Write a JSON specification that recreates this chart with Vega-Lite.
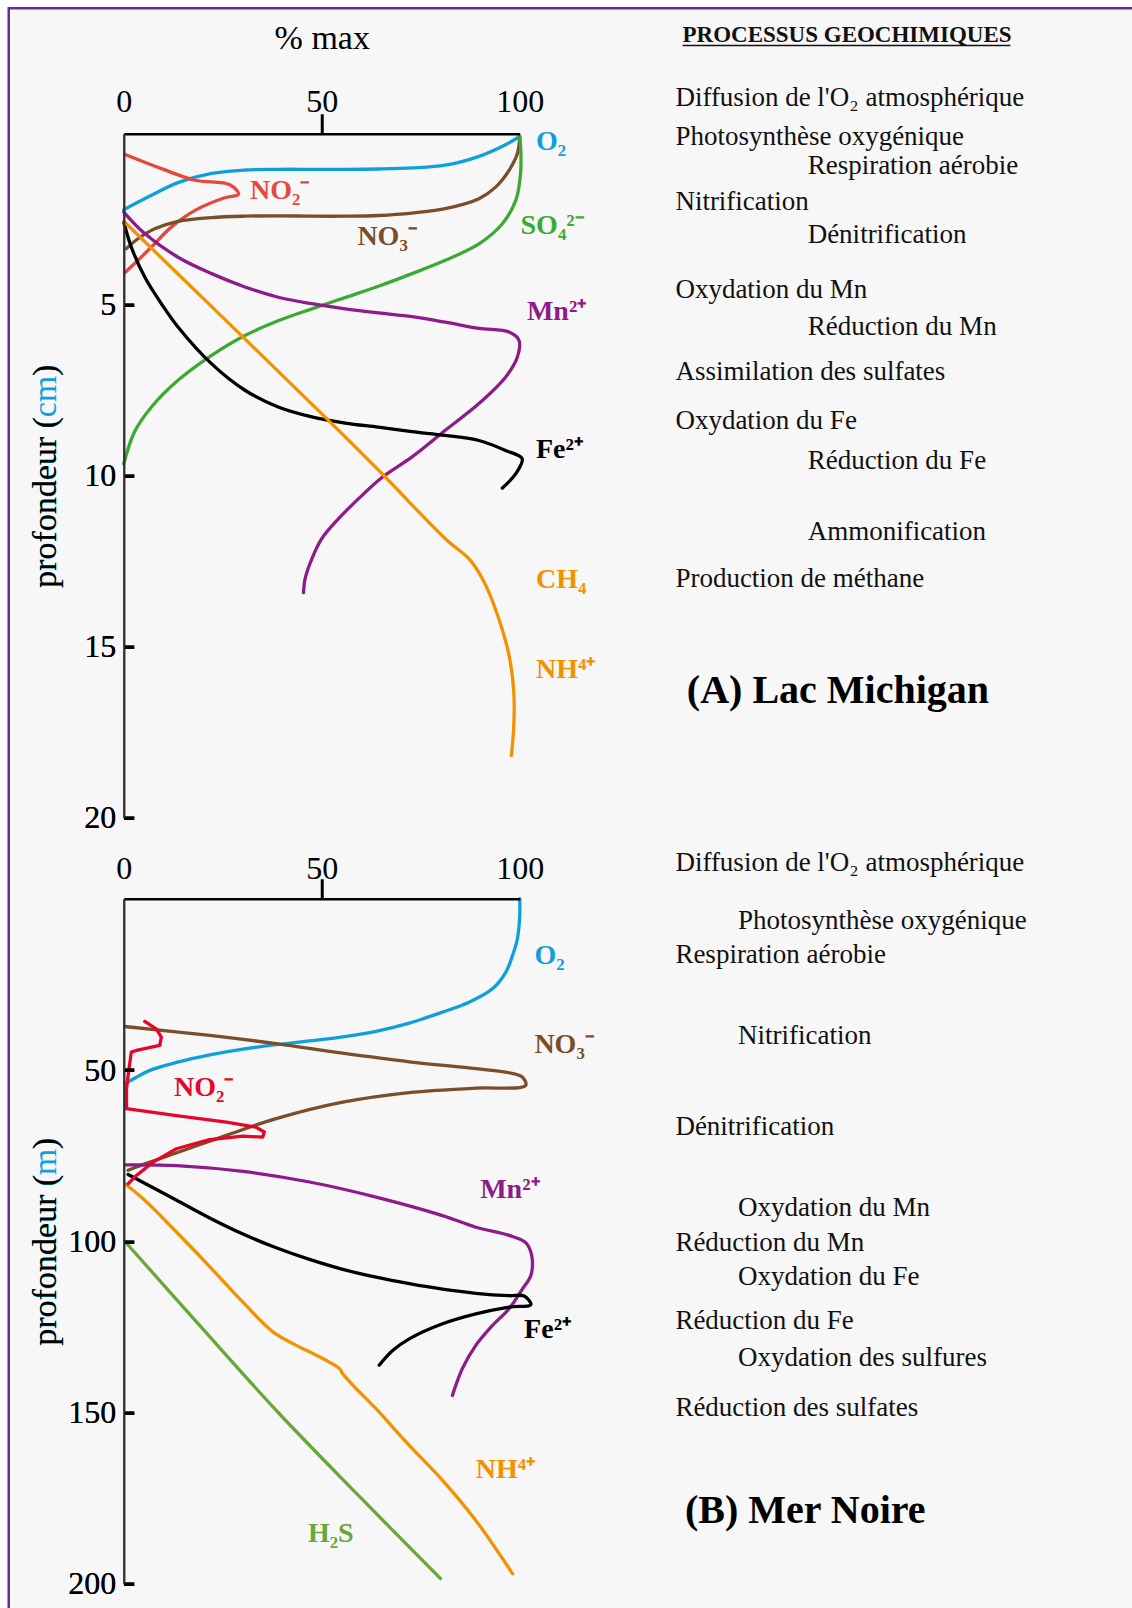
{
"$schema":"https://vega.github.io/schema/vega-lite/v6.json",
"background":"#ffffff",
"padding":{"left":6.75,"top":6.75,"right":0,"bottom":0},
"config":{"view":{"stroke":null},"font":"Liberation Serif","axis":{"labelFont":"Liberation Serif","titleFont":"Liberation Serif","grid":false,"zindex":1},"text":{"font":"Liberation Serif"}},
"datasets":{
"curves":[
{"p":"A","s":"O2","o":0,"x":0,"d":2.22},{"p":"A","s":"O2","o":1,"x":7,"d":1.8},{"p":"A","s":"O2","o":2,"x":13.7,"d":1.43},{"p":"A","s":"O2","o":3,"x":22.2,"d":1.16},{"p":"A","s":"O2","o":4,"x":30.6,"d":1.06},{"p":"A","s":"O2","o":5,"x":39,"d":1.04},{"p":"A","s":"O2","o":6,"x":47.5,"d":1.04},{"p":"A","s":"O2","o":7,"x":55.9,"d":1.04},{"p":"A","s":"O2","o":8,"x":64.3,"d":1.03},{"p":"A","s":"O2","o":9,"x":72.8,"d":1.0},{"p":"A","s":"O2","o":10,"x":81.2,"d":0.92},{"p":"A","s":"O2","o":11,"x":89.7,"d":0.66},{"p":"A","s":"O2","o":12,"x":96.4,"d":0.32},{"p":"A","s":"O2","o":13,"x":100,"d":0.08},
{"p":"A","s":"NO2","o":0,"x":0.2,"d":0.6},{"p":"A","s":"NO2","o":1,"x":9.5,"d":1.02},{"p":"A","s":"NO2","o":2,"x":18,"d":1.36},{"p":"A","s":"NO2","o":3,"x":26.8,"d":1.49},{"p":"A","s":"NO2","o":4,"x":29,"d":1.77},{"p":"A","s":"NO2","o":5,"x":25.5,"d":1.87},{"p":"A","s":"NO2","o":6,"x":18,"d":2.24},{"p":"A","s":"NO2","o":7,"x":12,"d":2.73},{"p":"A","s":"NO2","o":8,"x":7,"d":3.31},{"p":"A","s":"NO2","o":9,"x":3.6,"d":3.7},{"p":"A","s":"NO2","o":10,"x":0.2,"d":4.07},
{"p":"A","s":"NO3","o":0,"x":100,"d":0.08},{"p":"A","s":"NO3","o":1,"x":99.4,"d":0.58},{"p":"A","s":"NO3","o":2,"x":97.3,"d":1.07},{"p":"A","s":"NO3","o":3,"x":93.9,"d":1.56},{"p":"A","s":"NO3","o":4,"x":89.7,"d":1.9},{"p":"A","s":"NO3","o":5,"x":81.2,"d":2.19},{"p":"A","s":"NO3","o":6,"x":72.8,"d":2.32},{"p":"A","s":"NO3","o":7,"x":64.3,"d":2.39},{"p":"A","s":"NO3","o":8,"x":55.9,"d":2.41},{"p":"A","s":"NO3","o":9,"x":47.5,"d":2.41},{"p":"A","s":"NO3","o":10,"x":39,"d":2.4},{"p":"A","s":"NO3","o":11,"x":30.6,"d":2.41},{"p":"A","s":"NO3","o":12,"x":22.2,"d":2.45},{"p":"A","s":"NO3","o":13,"x":13.7,"d":2.56},{"p":"A","s":"NO3","o":14,"x":7.8,"d":2.78},{"p":"A","s":"NO3","o":15,"x":3.6,"d":3.07},{"p":"A","s":"NO3","o":16,"x":0.6,"d":3.36},
{"p":"A","s":"SO4","o":0,"x":100,"d":0.08},{"p":"A","s":"SO4","o":1,"x":100.3,"d":0.6},{"p":"A","s":"SO4","o":2,"x":100.2,"d":1.17},{"p":"A","s":"SO4","o":3,"x":99,"d":1.95},{"p":"A","s":"SO4","o":4,"x":95.6,"d":2.63},{"p":"A","s":"SO4","o":5,"x":89.7,"d":3.22},{"p":"A","s":"SO4","o":6,"x":81.2,"d":3.7},{"p":"A","s":"SO4","o":7,"x":72.8,"d":4.09},{"p":"A","s":"SO4","o":8,"x":64.3,"d":4.46},{"p":"A","s":"SO4","o":9,"x":55.9,"d":4.79},{"p":"A","s":"SO4","o":10,"x":47.5,"d":5.12},{"p":"A","s":"SO4","o":11,"x":39,"d":5.47},{"p":"A","s":"SO4","o":12,"x":30.6,"d":5.9},{"p":"A","s":"SO4","o":13,"x":22.2,"d":6.48},{"p":"A","s":"SO4","o":14,"x":13.7,"d":7.21},{"p":"A","s":"SO4","o":15,"x":7,"d":7.99},{"p":"A","s":"SO4","o":16,"x":2.7,"d":8.72},{"p":"A","s":"SO4","o":17,"x":0,"d":9.65},
{"p":"A","s":"Mn","o":0,"x":0,"d":2.29},{"p":"A","s":"Mn","o":1,"x":5.3,"d":2.92},{"p":"A","s":"Mn","o":2,"x":13.7,"d":3.61},{"p":"A","s":"Mn","o":3,"x":22.2,"d":4.09},{"p":"A","s":"Mn","o":4,"x":30.6,"d":4.48},{"p":"A","s":"Mn","o":5,"x":39,"d":4.78},{"p":"A","s":"Mn","o":6,"x":47.5,"d":4.97},{"p":"A","s":"Mn","o":7,"x":55.9,"d":5.12},{"p":"A","s":"Mn","o":8,"x":64.3,"d":5.24},{"p":"A","s":"Mn","o":9,"x":72.8,"d":5.35},{"p":"A","s":"Mn","o":10,"x":81.2,"d":5.51},{"p":"A","s":"Mn","o":11,"x":89.7,"d":5.69},{"p":"A","s":"Mn","o":12,"x":97.3,"d":5.8},{"p":"A","s":"Mn","o":13,"x":99.8,"d":6.04},{"p":"A","s":"Mn","o":14,"x":99.4,"d":6.53},{"p":"A","s":"Mn","o":15,"x":96.4,"d":7.12},{"p":"A","s":"Mn","o":16,"x":89.7,"d":7.89},{"p":"A","s":"Mn","o":17,"x":81.2,"d":8.67},{"p":"A","s":"Mn","o":18,"x":72.8,"d":9.45},{"p":"A","s":"Mn","o":19,"x":65.2,"d":10.05},{"p":"A","s":"Mn","o":20,"x":59.3,"d":10.67},{"p":"A","s":"Mn","o":21,"x":54.2,"d":11.26},{"p":"A","s":"Mn","o":22,"x":50,"d":11.84},{"p":"A","s":"Mn","o":23,"x":47.5,"d":12.43},{"p":"A","s":"Mn","o":24,"x":45.8,"d":13.01},{"p":"A","s":"Mn","o":25,"x":45.4,"d":13.42},
{"p":"A","s":"Fe","o":0,"x":0,"d":2.58},{"p":"A","s":"Fe","o":1,"x":1.9,"d":3.31},{"p":"A","s":"Fe","o":2,"x":5.3,"d":4.19},{"p":"A","s":"Fe","o":3,"x":9.5,"d":4.97},{"p":"A","s":"Fe","o":4,"x":13.7,"d":5.65},{"p":"A","s":"Fe","o":5,"x":22.2,"d":6.73},{"p":"A","s":"Fe","o":6,"x":30.6,"d":7.5},{"p":"A","s":"Fe","o":7,"x":39,"d":7.99},{"p":"A","s":"Fe","o":8,"x":47.5,"d":8.28},{"p":"A","s":"Fe","o":9,"x":55.9,"d":8.46},{"p":"A","s":"Fe","o":10,"x":64.3,"d":8.58},{"p":"A","s":"Fe","o":11,"x":72.8,"d":8.71},{"p":"A","s":"Fe","o":12,"x":81.2,"d":8.82},{"p":"A","s":"Fe","o":13,"x":89.7,"d":8.97},{"p":"A","s":"Fe","o":14,"x":96.4,"d":9.26},{"p":"A","s":"Fe","o":15,"x":100.6,"d":9.5},{"p":"A","s":"Fe","o":16,"x":99,"d":9.94},{"p":"A","s":"Fe","o":17,"x":95.6,"d":10.36},
{"p":"A","s":"CH4","o":0,"x":0,"d":2.56},{"p":"A","s":"CH4","o":1,"x":25,"d":5.37},{"p":"A","s":"CH4","o":2,"x":50.8,"d":8.28},{"p":"A","s":"CH4","o":3,"x":65.2,"d":9.94},{"p":"A","s":"CH4","o":4,"x":81.2,"d":11.84},{"p":"A","s":"CH4","o":5,"x":87.6,"d":12.48},{"p":"A","s":"CH4","o":6,"x":91.4,"d":13.2},{"p":"A","s":"CH4","o":7,"x":94.7,"d":14.18},{"p":"A","s":"CH4","o":8,"x":97.3,"d":15.25},{"p":"A","s":"CH4","o":9,"x":98.5,"d":16.33},{"p":"A","s":"CH4","o":10,"x":98.5,"d":17.3},{"p":"A","s":"CH4","o":11,"x":97.9,"d":18.18},
{"p":"B","s":"O2","o":0,"x":100,"d":0},{"p":"B","s":"O2","o":1,"x":100,"d":4.9},{"p":"B","s":"O2","o":2,"x":99.4,"d":11.7},{"p":"B","s":"O2","o":3,"x":98.2,"d":16.5},{"p":"B","s":"O2","o":4,"x":96.5,"d":21.4},{"p":"B","s":"O2","o":5,"x":93.1,"d":26.3},{"p":"B","s":"O2","o":6,"x":87.2,"d":30.2},{"p":"B","s":"O2","o":7,"x":80.5,"d":33.1},{"p":"B","s":"O2","o":8,"x":72.1,"d":36.3},{"p":"B","s":"O2","o":9,"x":63.7,"d":38.7},{"p":"B","s":"O2","o":10,"x":55.3,"d":40.3},{"p":"B","s":"O2","o":11,"x":46.9,"d":41.5},{"p":"B","s":"O2","o":12,"x":38.5,"d":42.6},{"p":"B","s":"O2","o":13,"x":30.1,"d":43.9},{"p":"B","s":"O2","o":14,"x":21.7,"d":45.6},{"p":"B","s":"O2","o":15,"x":13.3,"d":47.8},{"p":"B","s":"O2","o":16,"x":6.6,"d":50.1},{"p":"B","s":"O2","o":17,"x":3.2,"d":52.1},{"p":"B","s":"O2","o":18,"x":0.25,"d":54},
{"p":"B","s":"NO3","o":0,"x":0.25,"d":37.3},{"p":"B","s":"NO3","o":1,"x":21.7,"d":39.9},{"p":"B","s":"NO3","o":2,"x":38.5,"d":42.3},{"p":"B","s":"NO3","o":3,"x":55.3,"d":45.1},{"p":"B","s":"NO3","o":4,"x":72.1,"d":47.6},{"p":"B","s":"NO3","o":5,"x":88.9,"d":49.6},{"p":"B","s":"NO3","o":6,"x":97.3,"d":50.8},{"p":"B","s":"NO3","o":7,"x":100.7,"d":52.1},{"p":"B","s":"NO3","o":8,"x":101.5,"d":54.5},{"p":"B","s":"NO3","o":9,"x":88.9,"d":55.3},{"p":"B","s":"NO3","o":10,"x":72.1,"d":56.6},{"p":"B","s":"NO3","o":11,"x":55.3,"d":59.4},{"p":"B","s":"NO3","o":12,"x":38.5,"d":64.2},{"p":"B","s":"NO3","o":13,"x":25.9,"d":69.1},{"p":"B","s":"NO3","o":14,"x":17.5,"d":72.5},{"p":"B","s":"NO3","o":15,"x":9.1,"d":75.9},{"p":"B","s":"NO3","o":16,"x":3.2,"d":78.3},{"p":"B","s":"NO3","o":17,"x":1.1,"d":79.3},
{"p":"B","s":"NO2","o":0,"x":5.3,"d":35.8},{"p":"B","s":"NO2","o":1,"x":8.2,"d":38},{"p":"B","s":"NO2","o":2,"x":9.5,"d":40.4},{"p":"B","s":"NO2","o":3,"x":9.1,"d":42.8},{"p":"B","s":"NO2","o":4,"x":3.2,"d":44.3},{"p":"B","s":"NO2","o":5,"x":1.9,"d":44.8},{"p":"B","s":"NO2","o":6,"x":1.1,"d":51.6},{"p":"B","s":"NO2","o":7,"x":0.7,"d":55.5},{"p":"B","s":"NO2","o":8,"x":0.7,"d":61.3},{"p":"B","s":"NO2","o":9,"x":13.3,"d":63.3},{"p":"B","s":"NO2","o":10,"x":25.9,"d":65.2},{"p":"B","s":"NO2","o":11,"x":33.4,"d":66.7},{"p":"B","s":"NO2","o":12,"x":35.5,"d":68.1},{"p":"B","s":"NO2","o":13,"x":35.1,"d":69.6},{"p":"B","s":"NO2","o":14,"x":30.1,"d":69.3},{"p":"B","s":"NO2","o":15,"x":21.7,"d":70.3},{"p":"B","s":"NO2","o":16,"x":13.3,"d":73},{"p":"B","s":"NO2","o":17,"x":7.4,"d":76.9},{"p":"B","s":"NO2","o":18,"x":3.2,"d":80.8},{"p":"B","s":"NO2","o":19,"x":1.1,"d":83.2},
{"p":"B","s":"Mn","o":0,"x":0.25,"d":77.7},{"p":"B","s":"Mn","o":1,"x":13.3,"d":77.9},{"p":"B","s":"Mn","o":2,"x":30.1,"d":79.6},{"p":"B","s":"Mn","o":3,"x":46.9,"d":82.7},{"p":"B","s":"Mn","o":4,"x":63.7,"d":87.1},{"p":"B","s":"Mn","o":5,"x":80.5,"d":92.5},{"p":"B","s":"Mn","o":6,"x":88.9,"d":95.9},{"p":"B","s":"Mn","o":7,"x":97.3,"d":98.3},{"p":"B","s":"Mn","o":8,"x":101.5,"d":100.4},{"p":"B","s":"Mn","o":9,"x":103,"d":104.1},{"p":"B","s":"Mn","o":10,"x":102.8,"d":110},{"p":"B","s":"Mn","o":11,"x":100.7,"d":113.9},{"p":"B","s":"Mn","o":12,"x":97.3,"d":119.7},{"p":"B","s":"Mn","o":13,"x":93.1,"d":124.6},{"p":"B","s":"Mn","o":14,"x":88.9,"d":130.4},{"p":"B","s":"Mn","o":15,"x":85.5,"d":137.2},{"p":"B","s":"Mn","o":16,"x":83,"d":145},
{"p":"B","s":"Fe","o":0,"x":1.1,"d":80.5},{"p":"B","s":"Fe","o":1,"x":13,"d":87.8},{"p":"B","s":"Fe","o":2,"x":21.7,"d":93.2},{"p":"B","s":"Fe","o":3,"x":30.1,"d":97.9},{"p":"B","s":"Fe","o":4,"x":38.5,"d":101.9},{"p":"B","s":"Fe","o":5,"x":46.9,"d":105.3},{"p":"B","s":"Fe","o":6,"x":55.3,"d":108.2},{"p":"B","s":"Fe","o":7,"x":63.7,"d":110.5},{"p":"B","s":"Fe","o":8,"x":72.1,"d":112.4},{"p":"B","s":"Fe","o":9,"x":80.5,"d":114},{"p":"B","s":"Fe","o":10,"x":88.9,"d":115.2},{"p":"B","s":"Fe","o":11,"x":97.3,"d":115.9},{"p":"B","s":"Fe","o":12,"x":101.1,"d":116},{"p":"B","s":"Fe","o":13,"x":102.8,"d":118.5},{"p":"B","s":"Fe","o":14,"x":97.3,"d":119.2},{"p":"B","s":"Fe","o":15,"x":88.9,"d":121.2},{"p":"B","s":"Fe","o":16,"x":80.5,"d":124.1},{"p":"B","s":"Fe","o":17,"x":72.1,"d":128.5},{"p":"B","s":"Fe","o":18,"x":67.9,"d":131.9},{"p":"B","s":"Fe","o":19,"x":64.5,"d":136.2},
{"p":"B","s":"NH4","o":0,"x":0.25,"d":83.2},{"p":"B","s":"NH4","o":1,"x":4.9,"d":87.6},{"p":"B","s":"NH4","o":2,"x":13.3,"d":97.3},{"p":"B","s":"NH4","o":3,"x":21.7,"d":107.4},{"p":"B","s":"NH4","o":4,"x":30.1,"d":117.8},{"p":"B","s":"NH4","o":5,"x":37.5,"d":126.3},{"p":"B","s":"NH4","o":6,"x":42.7,"d":129.9},{"p":"B","s":"NH4","o":7,"x":48,"d":132.9},{"p":"B","s":"NH4","o":8,"x":54.5,"d":137.2},{"p":"B","s":"NH4","o":9,"x":55.3,"d":138.7},{"p":"B","s":"NH4","o":10,"x":58.7,"d":143},{"p":"B","s":"NH4","o":11,"x":63.7,"d":148.9},{"p":"B","s":"NH4","o":12,"x":72.1,"d":159.6},{"p":"B","s":"NH4","o":13,"x":80.5,"d":169.8},{"p":"B","s":"NH4","o":14,"x":88.9,"d":181.5},{"p":"B","s":"NH4","o":15,"x":98.2,"d":197.1},
{"p":"B","s":"H2S","o":0,"x":0.25,"d":100},{"p":"B","s":"H2S","o":1,"x":19.5,"d":125},{"p":"B","s":"H2S","o":2,"x":39,"d":150},{"p":"B","s":"H2S","o":3,"x":59.5,"d":174.5},{"p":"B","s":"H2S","o":4,"x":80,"d":198.5}
],
"labels":[
{"p":"A","s":"O2","t":"O₂","x":104.1,"d":0.25},
{"p":"A","s":"NO2","t":"NO₂⁻","x":31.9,"d":1.66},
{"p":"A","s":"NO3","t":"NO₃⁻","x":59,"d":3.01},
{"p":"A","s":"SO4","t":"SO₄²⁻","x":100.2,"d":2.71},
{"p":"A","s":"Mn","t":"Mn²⁺","x":101.8,"d":5.2},
{"p":"A","s":"Fe","t":"Fe²⁺","x":104.1,"d":9.24},
{"p":"A","s":"CH4","t":"CH₄","x":104.1,"d":13.05},
{"p":"A","s":"CH4","t":"NH⁴⁺","x":104.1,"d":15.69},
{"p":"B","s":"O2","t":"O₂","x":103.7,"d":16.8},
{"p":"B","s":"NO3","t":"NO₃⁻","x":103.7,"d":42.6},
{"p":"B","s":"NO2","t":"NO₂⁻","x":12.7,"d":55.2},
{"p":"B","s":"Mn","t":"Mn²⁺","x":90,"d":85.1},
{"p":"B","s":"Fe","t":"Fe²⁺","x":101.1,"d":125.8},
{"p":"B","s":"NH4","t":"NH⁴⁺","x":88.9,"d":166.8},
{"p":"B","s":"H2S","t":"H₂S","x":46.5,"d":185.4}
],
"procs":[
{"p":"A","k":"h","t":"PROCESSUS GEOCHIMIQUES","d":-2.9},
{"p":"A","k":"L","t":"Diffusion de l'O₂ atmosphérique","d":-1.04},
{"p":"A","k":"L","t":"Photosynthèse oxygénique","d":0.1},
{"p":"A","k":"R","t":"Respiration aérobie","d":0.94},
{"p":"A","k":"L","t":"Nitrification","d":1.99},
{"p":"A","k":"R","t":"Dénitrification","d":2.95},
{"p":"A","k":"L","t":"Oxydation du Mn","d":4.57},
{"p":"A","k":"R","t":"Réduction du Mn","d":5.65},
{"p":"A","k":"L","t":"Assimilation des sulfates","d":6.96},
{"p":"A","k":"L","t":"Oxydation du Fe","d":8.4},
{"p":"A","k":"R","t":"Réduction du Fe","d":9.57},
{"p":"A","k":"R","t":"Ammonification","d":11.64},
{"p":"A","k":"L","t":"Production de méthane","d":13.02},
{"p":"A","k":"T","t":"(A) Lac Michigan","d":16.29},
{"p":"B","k":"L","t":"Diffusion de l'O₂ atmosphérique","d":-10.4},
{"p":"B","k":"R","t":"Photosynthèse oxygénique","d":6.36},
{"p":"B","k":"L","t":"Respiration aérobie","d":16.5},
{"p":"B","k":"R","t":"Nitrification","d":40.2},
{"p":"B","k":"L","t":"Dénitrification","d":66.5},
{"p":"B","k":"R","t":"Oxydation du Mn","d":90.2},
{"p":"B","k":"L","t":"Réduction du Mn","d":100.4},
{"p":"B","k":"R","t":"Oxydation du Fe","d":110.5},
{"p":"B","k":"L","t":"Réduction du Fe","d":123.4},
{"p":"B","k":"R","t":"Oxydation des sulfures","d":134.2},
{"p":"B","k":"L","t":"Réduction des sulfates","d":148.6},
{"p":"B","k":"T","t":"(B) Mer Noire","d":178.8}
]
},
"vconcat":[
{
"width":396,"height":684,
"resolve":{"axis":{"y":"independent"}},
"layer":[
{"data":{"values":[{}]},
"mark":{"type":"rect","fill":"#f7f7f7","stroke":"#6b2c91","strokeWidth":2.5,"zindex":0},
"encoding":{"x":{"datum":-29.04,"type":"quantitative","scale":{"domain":[0,100]}},"x2":{"datum":275},"y":{"datum":-3.67,"type":"quantitative","scale":{"domain":[0,20],"reverse":true},"axis":null},"y2":{"datum":48}}},
{"data":{"name":"curves"},"transform":[{"filter":"datum.p === 'A'"}],
"mark":{"type":"line","interpolate":"catmull-rom","strokeWidth":3.3,"strokeCap":"round","strokeJoin":"round"},
"encoding":{
"x":{"field":"x","type":"quantitative","scale":{"domain":[0,100]},"axis":{"zindex":2,"orient":"top","values":[0,50,100],"title":"% max","titleFontSize":34,"titleFontWeight":"normal","titleColor":"#000","titlePadding":37,"titleBaseline":"alphabetic","labelFontSize":32,"labelColor":"#000","labelBaseline":"alphabetic","labelPadding":2,"labelFlush":false,"tickSize":20,"tickWidth":3,"tickColor":"#000","tickOpacity":{"condition":{"test":"datum.value === 50","value":1},"value":0},"domainColor":"#000","domainWidth":2.5}},
"y":{"field":"d","type":"quantitative","scale":{"domain":[0,20],"reverse":true},"axis":{"zindex":2,"orient":"left","values":[5,10,15,20],"title":"profondeur (cm)","titleColor":"#0ea0dd","titleFontSize":34,"titleFontWeight":"normal","titlePadding":21,"labelFontSize":32,"labelColor":"#000","labelPadding":18,"labelFlush":false,"tickSize":-10,"tickWidth":3.5,"tickColor":"#000","domainColor":"#333","domainWidth":2}},
"color":{"field":"s","type":"nominal","scale":{"domain":["O2","NO2","NO3","SO4","Mn","Fe","CH4"],"range":["#0ea0dd","#e8473e","#7a4e2a","#3da935","#8d1b8a","#000000","#f39200"]},"legend":null},
"order":{"field":"o","type":"quantitative"}}},
{"data":{"name":"labels"},"transform":[{"filter":"datum.p === 'A'"}],
"mark":{"type":"text","fontWeight":"bold","fontSize":28,"align":"left","baseline":"middle"},
"encoding":{
"x":{"field":"x","type":"quantitative","scale":{"domain":[0,100]}},
"y":{"field":"d","type":"quantitative","scale":{"domain":[0,20],"reverse":true},"axis":{"zindex":3,"orient":"left","values":[5,10,15,20],"title":"profondeur (\u2003\u2009)","titleColor":"#000","titleFontSize":34,"titleFontWeight":"normal","titlePadding":21,"labelFontSize":32,"labelColor":"#000","labelPadding":18,"labelFlush":false,"tickSize":-10,"tickWidth":3.5,"tickColor":"#000","domainColor":"#333","domainWidth":2}},
"color":{"field":"s","type":"nominal","legend":null},
"text":{"field":"t"}}},
{"data":{"name":"procs"},"transform":[{"filter":"datum.p === 'A' && datum.k === 'L'"}],
"mark":{"type":"text","fontSize":27,"align":"left","baseline":"middle","color":"#111"},
"encoding":{"x":{"datum":139.3,"type":"quantitative","scale":{"domain":[0,100]}},"y":{"field":"d","type":"quantitative","scale":{"domain":[0,20],"reverse":true},"axis":null},"text":{"field":"t"}}},
{"data":{"name":"procs"},"transform":[{"filter":"datum.p === 'A' && datum.k === 'R'"}],
"mark":{"type":"text","fontSize":27,"align":"left","baseline":"middle","color":"#111"},
"encoding":{"x":{"datum":172.7,"type":"quantitative","scale":{"domain":[0,100]}},"y":{"field":"d","type":"quantitative","scale":{"domain":[0,20],"reverse":true},"axis":null},"text":{"field":"t"}}},
{"data":{"name":"procs"},"transform":[{"filter":"datum.p === 'A' && datum.k === 'h'"}],
"mark":{"type":"text","fontSize":23,"fontWeight":"bold","align":"left","baseline":"middle","color":"#111"},
"encoding":{"x":{"datum":141.1,"type":"quantitative","scale":{"domain":[0,100]}},"y":{"field":"d","type":"quantitative","scale":{"domain":[0,20],"reverse":true},"axis":null},"text":{"field":"t"}}},
{"data":{"name":"procs"},"transform":[{"filter":"datum.p === 'A' && datum.k === 'h'"}],
"mark":{"type":"rule","strokeWidth":1.6,"color":"#111","yOffset":11},
"encoding":{"x":{"datum":141.1,"type":"quantitative","scale":{"domain":[0,100]}},"x2":{"datum":223.9},"y":{"field":"d","type":"quantitative","scale":{"domain":[0,20],"reverse":true},"axis":null}}},
{"data":{"name":"procs"},"transform":[{"filter":"datum.p === 'A' && datum.k === 'T'"}],
"mark":{"type":"text","fontSize":40,"fontWeight":"bold","align":"left","baseline":"middle","color":"#000"},
"encoding":{"x":{"datum":142.2,"type":"quantitative","scale":{"domain":[0,100]}},"y":{"field":"d","type":"quantitative","scale":{"domain":[0,20],"reverse":true},"axis":null},"text":{"field":"t"}}}
]
},
{
"width":396,"height":685,
"resolve":{"axis":{"y":"independent"}},
"layer":[
{"data":{"name":"curves"},"transform":[{"filter":"datum.p === 'B' && datum.s !== 'NO2'"}],
"mark":{"type":"line","interpolate":"catmull-rom","strokeWidth":3.3,"strokeCap":"round","strokeJoin":"round"},
"encoding":{
"x":{"field":"x","type":"quantitative","scale":{"domain":[0,100]},"axis":{"zindex":2,"orient":"top","values":[0,50,100],"title":null,"labelFontSize":32,"labelColor":"#000","labelBaseline":"alphabetic","labelPadding":0,"labelFlush":false,"tickSize":20,"tickWidth":3,"tickColor":"#000","tickOpacity":{"condition":{"test":"datum.value === 50","value":1},"value":0},"domainColor":"#000","domainWidth":2.5}},
"y":{"field":"d","type":"quantitative","scale":{"domain":[0,200],"reverse":true},"axis":{"zindex":2,"orient":"left","values":[50,100,150,200],"title":"profondeur (m)","titleColor":"#0ea0dd","titleFontSize":34,"titleFontWeight":"normal","titlePadding":5,"labelFontSize":32,"labelColor":"#000","labelPadding":18,"labelFlush":false,"tickSize":-10,"tickWidth":3.5,"tickColor":"#000","domainColor":"#333","domainWidth":2}},
"color":{"field":"s","type":"nominal","scale":{"domain":["O2","NO2","NO3","Mn","Fe","NH4","H2S"],"range":["#0ea0dd","#e5072a","#7a4e2a","#8d1b8a","#000000","#f39200","#68a83a"]},"legend":null},
"order":{"field":"o","type":"quantitative"}}},
{"data":{"name":"curves"},"transform":[{"filter":"datum.p === 'B' && datum.s === 'NO2'"}],
"mark":{"type":"line","interpolate":"linear","strokeWidth":3.3,"strokeCap":"round","strokeJoin":"round"},
"encoding":{
"x":{"field":"x","type":"quantitative","scale":{"domain":[0,100]}},
"y":{"field":"d","type":"quantitative","scale":{"domain":[0,200],"reverse":true},"axis":null},
"color":{"field":"s","type":"nominal","legend":null},
"order":{"field":"o","type":"quantitative"}}},
{"data":{"name":"labels"},"transform":[{"filter":"datum.p === 'B'"}],
"mark":{"type":"text","fontWeight":"bold","fontSize":28,"align":"left","baseline":"middle"},
"encoding":{
"x":{"field":"x","type":"quantitative","scale":{"domain":[0,100]}},
"y":{"field":"d","type":"quantitative","scale":{"domain":[0,200],"reverse":true},"axis":{"zindex":3,"orient":"left","values":[50,100,150,200],"title":"profondeur (\u2002\u2005)","titleColor":"#000","titleFontSize":34,"titleFontWeight":"normal","titlePadding":5,"labelFontSize":32,"labelColor":"#000","labelPadding":18,"labelFlush":false,"tickSize":-10,"tickWidth":3.5,"tickColor":"#000","domainColor":"#333","domainWidth":2}},
"color":{"field":"s","type":"nominal","legend":null},
"text":{"field":"t"}}},
{"data":{"name":"procs"},"transform":[{"filter":"datum.p === 'B' && datum.k === 'L'"}],
"mark":{"type":"text","fontSize":27,"align":"left","baseline":"middle","color":"#111"},
"encoding":{"x":{"datum":139.3,"type":"quantitative","scale":{"domain":[0,100]}},"y":{"field":"d","type":"quantitative","scale":{"domain":[0,200],"reverse":true},"axis":null},"text":{"field":"t"}}},
{"data":{"name":"procs"},"transform":[{"filter":"datum.p === 'B' && datum.k === 'R'"}],
"mark":{"type":"text","fontSize":27,"align":"left","baseline":"middle","color":"#111"},
"encoding":{"x":{"datum":155.1,"type":"quantitative","scale":{"domain":[0,100]}},"y":{"field":"d","type":"quantitative","scale":{"domain":[0,200],"reverse":true},"axis":null},"text":{"field":"t"}}},
{"data":{"name":"procs"},"transform":[{"filter":"datum.p === 'B' && datum.k === 'T'"}],
"mark":{"type":"text","fontSize":40,"fontWeight":"bold","align":"left","baseline":"middle","color":"#000"},
"encoding":{"x":{"datum":141.7,"type":"quantitative","scale":{"domain":[0,100]}},"y":{"field":"d","type":"quantitative","scale":{"domain":[0,200],"reverse":true},"axis":null},"text":{"field":"t"}}}
]
}
],
"spacing":81,
"bounds":"flush",
"resolve":{"scale":{"x":"independent","y":"independent","color":"independent"}}
}
